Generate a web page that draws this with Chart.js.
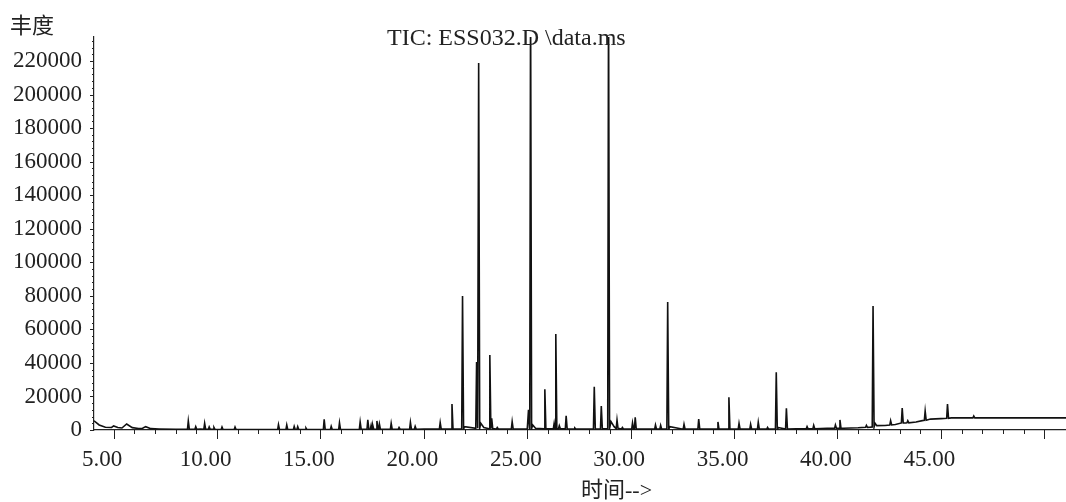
<!DOCTYPE html>
<html>
<head>
<meta charset="utf-8">
<script src="https://cdn.jsdelivr.net/npm/chart.js@4.4.1/dist/chart.umd.min.js"></script>
<style>
  body { margin: 0; background: #fff; }
  canvas { display: block; }
</style>
</head>
<body>
<canvas id="tic" width="1066" height="502"></canvas>
<script>
// baseline of the trace (time in min, abundance)
const baseTimes  = [4.05, 4.3, 4.6, 4.9, 5.0, 5.2, 5.4, 5.63, 5.9, 6.2, 6.4, 6.55, 6.8, 7.2, 8.0, 9.2, 10.0, 12.0, 15.0,
  20.0, 21.0, 21.97, 22.75, 22.9, 25.0, 25.26, 25.4, 29.05, 29.2, 29.45, 30.0, 31.9, 35.0, 37.12, 38.0, 39.5, 40.3,
  41.0, 41.6, 41.82, 41.9, 42.3, 42.8, 43.3, 43.8, 44.1, 44.5, 45.0, 45.5, 47.0, 51.05];
const baseValues = [5500, 3000, 1600, 1500, 2400, 1500, 1200, 3600, 1400, 900, 1000, 2000, 800, 600, 400, 500, 300, 200, 300,
  500, 500, 2000, 4000, 1500, 600, 3000, 1000, 5000, 2000, 900, 500, 2000, 500, 1500, 700, 1000, 1000,
  1300, 1700, 4000, 2600, 2700, 3300, 4200, 4800, 5600, 6500, 6800, 7200, 7300, 7200];

// peaks: retention time, apex abundance, local baseline
const peakTimes = [8.61, 8.97, 9.40, 9.62, 9.85, 10.24, 10.87, 12.97, 13.37, 13.73, 13.90, 14.3, 15.18, 15.52, 15.92,
  16.92, 17.29, 17.45, 17.53, 17.73, 17.85, 18.42, 18.8, 19.35, 19.58, 20.79, 21.36, 21.87, 22.55, 22.65, 23.19, 23.28,
  23.55, 24.27, 25.06, 25.16, 25.85, 26.30, 26.38, 26.55, 26.88, 27.3, 28.24, 28.58, 28.93, 29.34, 29.6, 30.09, 30.22,
  31.2, 31.45, 31.79, 32.58, 33.29, 34.22, 34.75, 35.24, 35.80, 36.17, 36.62, 37.04, 37.53, 38.53, 38.85, 39.90, 40.12,
  41.40, 41.72, 42.57, 43.13, 43.40, 44.24, 45.32, 46.59];
const peakHeights = [5400, 2000, 4000, 1800, 1500, 1800, 1800, 3200, 3000, 2200, 2000, 1200, 6400, 2200, 4400,
  4800, 6000, 2800, 2800, 5400, 3600, 4000, 1500, 4600, 2200, 4400, 15500, 79900, 40500, 218800, 44700, 7000,
  1500, 5000, 12000, 260000, 24300, 4000, 57200, 2500, 8500, 1200, 25800, 14300, 260000, 6000, 1500, 4200, 7500,
  3000, 2800, 76300, 3400, 6500, 4800, 19500, 4000, 3400, 4600, 1500, 34400, 12900, 2000, 2800, 3000, 6000,
  2800, 73900, 5500, 13100, 5500, 11300, 15500, 8300];
const peakBase = [400, 400, 400, 400, 350, 300, 300, 200, 200, 250, 250, 250, 300, 300, 300,
  350, 400, 400, 400, 400, 400, 400, 450, 450, 450, 500, 500, 600, 1000, 1000, 800, 800,
  600, 600, 600, 800, 700, 700, 800, 700, 700, 600, 600, 700, 900, 800, 600, 500, 500,
  500, 500, 500, 500, 500, 500, 500, 500, 500, 500, 500, 600, 600, 700, 700, 1000, 1000,
  1600, 1800, 3000, 4200, 4300, 5800, 7000, 7200];

const xTicks = [5, 6, 7, 8, 9, 10, 11, 12, 13, 14, 15, 16, 17, 18, 19, 20, 21, 22, 23, 24, 25, 26, 27, 28, 29, 30,
  31, 32, 33, 34, 35, 36, 37, 38, 39, 40, 41, 42, 43, 44, 45, 46, 47, 48, 49, 50];
const yTicks = [];
for (let v = 0; v <= 232000; v += 4000) yTicks.push(v);

const trace = [];
baseTimes.forEach((t, i) => trace.push({ x: t, y: baseValues[i] }));
peakTimes.forEach((t, i) => {
  trace.push({ x: t - 0.04, y: peakBase[i] });
  trace.push({ x: t, y: peakHeights[i] });
  trace.push({ x: t + 0.05, y: peakBase[i] });
});
trace.sort((a, b) => a.x - b.x);

const serif = '"Liberation Serif", "Times New Roman", serif';
const cjk = '"Liberation Serif", "Noto Sans CJK SC", serif';

// tick marks of different lengths + the extra texts
const decorations = {
  id: 'decorations',
  afterDraw(chart) {
    const ctx = chart.ctx;
    const xs = chart.scales.x, ys = chart.scales.y;
    ctx.save();
    ctx.strokeStyle = '#222';
    ctx.lineWidth = 1;
    ctx.beginPath();
    xTicks.forEach(v => {
      const px = Math.round(xs.getPixelForValue(v)) + 0.5;
      const len = v % 5 === 0 ? 9 : 4;
      ctx.moveTo(px, xs.top);
      ctx.lineTo(px, xs.top + len);
    });
    yTicks.forEach(v => {
      const py = Math.round(ys.getPixelForValue(v)) + 0.5;
      const len = v % 20000 === 0 ? 4 : 2;
      ctx.moveTo(ys.right, py);
      ctx.lineTo(ys.right - len, py);
    });
    ctx.stroke();

    ctx.fillStyle = '#222';
    ctx.textBaseline = 'middle';
    ctx.textAlign = 'left';
    ctx.font = '24px ' + serif;
    ctx.fillText('TIC: ESS032.D \\data.ms', 387, 39);
    ctx.font = '22px ' + cjk;
    ctx.fillText('丰度', 10, 27);
    ctx.fillText('时间-->', 581, 491);
    ctx.restore();
  }
};

new Chart(document.getElementById('tic'), {
  type: 'line',
  data: {
    datasets: [{
      data: trace,
      borderColor: '#111',
      borderWidth: 1.6,
      pointRadius: 0,
      tension: 0,
      fill: false
    }]
  },
  options: {
    responsive: false,
    animation: false,
    events: [],
    layout: { padding: { top: 37, right: 0, left: 0, bottom: 0 } },
    plugins: { legend: { display: false }, tooltip: { enabled: false } },
    scales: {
      x: {
        type: 'linear',
        min: 4.05,
        max: 51.05,
        afterBuildTicks: s => { s.ticks = xTicks.map(v => ({ value: v })); },
        afterFit: s => { s.height = 72; },
        grid: { display: false, drawTicks: false },
        border: { display: true, color: '#222', width: 1.2 },
        ticks: {
          padding: 16,
          labelOffset: -11.5,
          maxRotation: 0,
          autoSkip: false,
          color: '#222',
          font: { family: serif, size: 23 },
          callback: v => (v % 5 === 0 && v < 50) ? v.toFixed(2) : ''
        }
      },
      y: {
        min: 0,
        max: 234300,
        afterBuildTicks: s => { s.ticks = yTicks.map(v => ({ value: v })); },
        afterFit: s => { s.width = 94; },
        grid: { display: false, drawTicks: false },
        border: { display: true, color: '#222', width: 1.2 },
        ticks: {
          padding: 12,
          autoSkip: false,
          color: '#222',
          font: { family: serif, size: 23 },
          callback: v => v % 20000 === 0 ? String(v) : ''
        }
      }
    }
  },
  plugins: [decorations]
});
</script>
</body>
</html>
